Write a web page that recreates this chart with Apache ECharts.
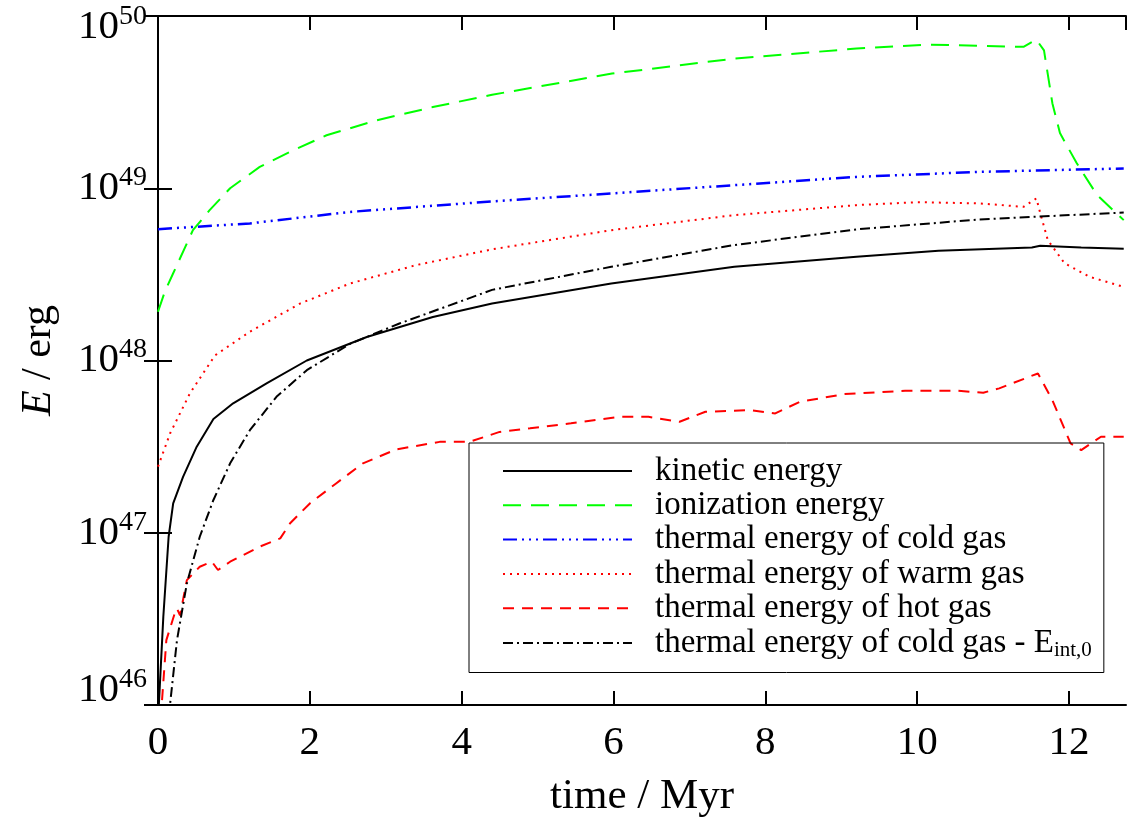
<!DOCTYPE html>
<html>
<head>
<meta charset="utf-8">
<script src="https://cdn.jsdelivr.net/npm/echarts@6/dist/echarts.min.js"></script>
<style>
html, body { margin: 0; padding: 0; background: #fff; }
#chart { width: 1130px; height: 818px; }
</style>
</head>
<body>
<div id="chart"></div>
<script>
// time in Myr, energy in erg
var kineticT = [0, 0.07, 0.14, 0.2, 0.33, 0.51, 0.73, 0.99, 1.43, 1.96, 2.75, 3.62, 4.4, 5.97, 7.59, 9.2, 10.28, 11.51, 11.62, 12.16, 12.72];
var kineticE = [8e45, 3.25e46, 9.48e46, 1.48e47, 2.11e47, 3.16e47, 4.57e47, 5.64e47, 7.36e47, 1.0e48, 1.37e48, 1.79e48, 2.14e48, 2.80e48, 3.50e48, 4.00e48, 4.34e48, 4.53e48, 4.63e48, 4.53e48, 4.45e48];

var ionT = [0, 0.09, 0.2, 0.46, 0.68, 0.95, 1.34, 1.74, 2.22, 2.88, 3.62, 4.4, 5.98, 7.59, 9.2, 10.17, 11.4, 11.57, 11.67, 11.78, 11.88, 12.1, 12.37, 12.72];
var ionE = [1.92e48, 2.51e48, 3.21e48, 5.71e48, 7.46e48, 1.0e49, 1.33e49, 1.63e49, 2.03e49, 2.48e49, 2.96e49, 3.49e49, 4.63e49, 5.66e49, 6.47e49, 6.82e49, 6.62e49, 7.29e49, 6.31e49, 3.12e49, 2.09e49, 1.40e49, 9.12e48, 6.53e48];

var coldT = [0, 1.21, 2.53, 4.4, 5.97, 7.59, 9.2, 10.82, 12.72];
var coldE = [5.79e48, 6.25e48, 7.29e48, 8.39e48, 9.33e48, 1.042e49, 1.164e49, 1.245e49, 1.303e49];

var warmT = [0, 0.16, 0.42, 0.75, 1.21, 1.87, 2.53, 3.4, 4.4, 5.97, 7.59, 9.2, 10.0, 10.82, 11.4, 11.57, 11.62, 11.72, 11.94, 12.27, 12.69];
var warmE = [2.42e47, 3.78e47, 6.44e47, 1.07e48, 1.47e48, 2.14e48, 2.80e48, 3.58e48, 4.42e48, 5.71e48, 6.98e48, 7.98e48, 8.30e48, 8.17e48, 7.80e48, 8.73e48, 7.18e48, 5.00e48, 3.67e48, 3.06e48, 2.70e48];

var hotT = [0, 0.05, 0.11, 0.22, 0.25, 0.29, 0.38, 0.55, 0.71, 0.79, 0.95, 1.34, 1.61, 1.74, 2.0, 2.35, 2.7, 3.14, 3.71, 4.1, 4.5, 4.9, 5.44, 6.09, 6.46, 6.87, 7.21, 7.8, 8.13, 8.45, 9.04, 9.84, 10.54, 10.87, 11.08, 11.59, 11.78, 12.02, 12.16, 12.42, 12.72];
var hotE = [3e45, 1.02e46, 2.38e46, 3.40e46, 3.63e46, 3.31e46, 5.31e46, 6.35e46, 6.79e46, 6.08e46, 6.79e46, 8.30e46, 9.27e46, 1.135e47, 1.48e47, 1.94e47, 2.53e47, 3.05e47, 3.37e47, 3.37e47, 3.85e47, 4.04e47, 4.32e47, 4.71e47, 4.71e47, 4.41e47, 5.04e47, 5.15e47, 4.93e47, 5.75e47, 6.38e47, 6.67e47, 6.67e47, 6.50e47, 6.89e47, 8.41e47, 5.89e47, 3.30e47, 3.02e47, 3.61e47, 3.61e47];

var coldSubT = [0.12, 0.16, 0.25, 0.38, 0.55, 0.73, 0.95, 1.21, 1.56, 1.96, 2.53, 3.18, 3.84, 4.4, 5.97, 7.59, 9.2, 10.82, 12.72];
var coldSubE = [5e45, 1.02e46, 2.38e46, 5.08e46, 9.48e46, 1.55e47, 2.53e47, 3.94e47, 6.15e47, 8.79e47, 1.25e48, 1.64e48, 2.09e48, 2.57e48, 3.50e48, 4.68e48, 5.77e48, 6.59e48, 7.23e48];

var xTicks = [0, 2, 4, 6, 8, 10, 12];

var serif = 'Liberation Serif';

function pairs(t, e) {
    return t.map(function (x, i) { return [x, e[i]]; });
}

function lineSeries(name, t, e, color, dash, width) {
    return {
        name: name,
        type: 'line',
        xAxisIndex: 0,
        yAxisIndex: 0,
        symbol: 'none',
        showSymbol: false,
        clip: true,
        animation: false,
        lineStyle: { color: color, width: width || 2, type: dash },
        itemStyle: { color: color },
        data: pairs(t, e)
    };
}

var axisLineStyle = { show: true, lineStyle: { color: '#000', width: 2 } };
var tickStyle = { show: true, inside: true, length: 14, lineStyle: { color: '#000', width: 2 } };

function xAxisOpt(pos, labels) {
    return {
        type: 'value',
        position: pos,
        min: 0,
        max: 12.75,
        interval: 2,
        splitLine: { show: false },
        axisLine: axisLineStyle,
        axisTick: tickStyle,
        axisLabel: {
            show: labels,
            margin: 18,
            color: '#000',
            fontFamily: serif,
            fontSize: 41,
            showMaxLabel: false,
            formatter: function (v) { return xTicks.indexOf(v) >= 0 ? String(v) : ''; }
        }
    };
}

function yAxisOpt(pos, labels) {
    return {
        type: 'log',
        position: pos,
        logBase: 10,
        min: 1e46,
        max: 1e50,
        splitNumber: 4,
        splitLine: { show: false },
        axisLine: axisLineStyle,
        axisTick: tickStyle,
        axisLabel: {
            show: labels,
            margin: 11,
            color: '#000',
            formatter: function (v) {
                var p = Math.round(Math.log(v) / Math.LN10);
                var s = '{b|10}{s|' + p + '}';
                // edge labels are nudged inside the frame, as in the original
                if (p === 50) return '{gap|}\n' + s;
                if (p === 46) return s + '\n{gap2|}';
                return s;
            },
            rich: {
                b: { fontFamily: serif, fontSize: 41, color: '#000', verticalAlign: 'bottom', padding: [4, 0, 4, 0] },
                s: { fontFamily: serif, fontSize: 28, color: '#000', verticalAlign: 'top' },
                gap: { height: 23, lineHeight: 23 },
                gap2: { height: 30, lineHeight: 30 }
            }
        }
    };
}

var chart = echarts.init(document.getElementById('chart'));
chart.setOption({
    backgroundColor: '#fff',
    animation: false,
    grid: { left: 158, right: 4, top: 16, bottom: 113, containLabel: false, outerBoundsMode: 'none' },
    xAxis: [
        Object.assign(xAxisOpt('bottom', true), {
            name: 'time / Myr',
            nameLocation: 'middle',
            nameGap: 70,
            nameTextStyle: { fontFamily: serif, fontSize: 43, color: '#000' }
        }),
        xAxisOpt('top', false)
    ],
    yAxis: [
        Object.assign(yAxisOpt('left', true), {
            name: '{i|E} / erg',
            nameLocation: 'middle',
            nameGap: 98,
            nameTextStyle: {
                fontFamily: serif, fontSize: 42, color: '#000',
                rich: { i: { fontFamily: serif, fontSize: 42, fontStyle: 'italic', color: '#000' } }
            }
        }),
        yAxisOpt('right', false)
    ],
    legend: {
        orient: 'vertical',
        left: 469,
        top: 443,
        padding: [11, 12, 12, 33],
        itemGap: 0.3,
        itemWidth: 129,
        itemHeight: 14,
        borderColor: '#000',
        borderWidth: 1,
        borderRadius: 0,
        backgroundColor: 'transparent',
        selectedMode: false,
        itemStyle: { opacity: 0 },
        textStyle: {
            fontFamily: serif,
            fontSize: 33,
            lineHeight: 34,
            color: '#000',
            padding: [0, 0, 0, 18],
            rich: {
                sub: { fontFamily: serif, fontSize: 21, lineHeight: 34, color: '#000', padding: [14, 0, 0, 0] }
            }
        },
        formatter: function (name) {
            return name.replace('_int,0', '{sub|int,0}');
        },
        data: [
            'kinetic energy',
            'ionization energy',
            'thermal energy of cold gas',
            'thermal energy of warm gas',
            'thermal energy of hot gas',
            'thermal energy of cold gas - E_int,0'
        ]
    },
    series: [
        lineSeries('kinetic energy', kineticT, kineticE, '#000000', 'solid', 2),
        lineSeries('ionization energy', ionT, ionE, '#00ff00', [18, 10], 2),
        lineSeries('thermal energy of cold gas', coldT, coldE, '#0000ff', [14, 5, 2, 5, 2, 5, 2, 5], 2.5),
        lineSeries('thermal energy of warm gas', warmT, warmE, '#ff0000', [2, 5], 2),
        lineSeries('thermal energy of hot gas', hotT, hotE, '#ff0000', [11, 8], 2),
        lineSeries('thermal energy of cold gas - E_int,0', coldSubT, coldSubE, '#000000', [10, 4, 2, 4], 2)
    ]
});
</script>
</body>
</html>
